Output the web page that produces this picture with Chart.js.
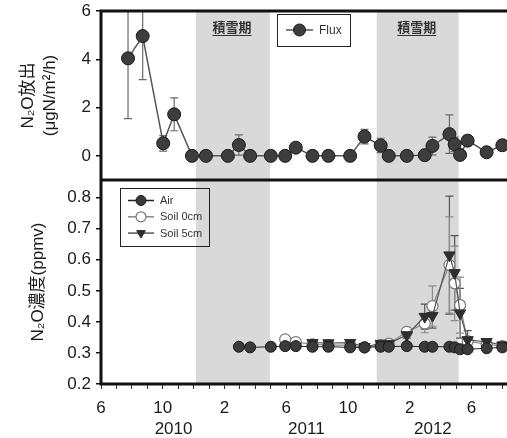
<!DOCTYPE html>
<html>
<head>
<meta charset="utf-8">
<script src="https://cdn.jsdelivr.net/npm/chart.js@4.4.0/dist/chart.umd.min.js"></script>
<style>
  body { margin: 0; background: #fff; }
  #wrap { position: relative; width: 507px; height: 438px; overflow: hidden; }
  #top { position: absolute; left: 0; top: 0; }
  #bottom { position: absolute; left: 0; top: 180px; }
</style>
</head>
<body>
<div id="wrap">
  <canvas id="top" width="507" height="180"></canvas>
  <canvas id="bottom" width="507" height="258"></canvas>
</div>
<script>
// x values are months counted from June 2010 (0 = Jun 2010)
const tickMonths = [0, 4, 8, 12, 16, 20, 24];
const tickLabels = ["6", "10", "2", "6", "10", "2", "6"];
const yearLabels = ["2010", "2011", "2012"];
const yearMonths = [4.7, 13.3, 21.5];

const snowStart = [6.15, 17.86];
const snowEnd = [10.94, 23.17];
const snowLabel = "積雪期";

const fluxMonths = [1.75, 2.7, 4.03, 4.74, 5.89, 6.8, 8.22, 8.93, 9.66, 11.0, 11.93, 12.62, 13.7, 14.73, 16.14, 17.07, 18.12, 18.64, 19.81, 20.97, 21.47, 22.57, 22.91, 23.26, 23.75, 24.98, 26.0];
const fluxValues = [4.04, 4.96, 0.52, 1.72, 0, 0, 0, 0.45, 0, 0, 0, 0.34, 0, 0, 0, 0.8, 0.43, 0, 0, 0.03, 0.41, 0.9, 0.48, 0.04, 0.63, 0.15, 0.44];
const fluxErrors = [2.5, 1.8, 0.32, 0.68, 0, 0, 0, 0.42, 0, 0, 0, 0.2, 0, 0, 0, 0.3, 0.3, 0, 0, 0, 0.37, 0.8, 0.3, 0, 0.2, 0, 0.2];

const airMonths = [8.93, 9.66, 11.0, 11.93, 12.62, 13.7, 14.73, 16.14, 17.07, 18.12, 18.64, 19.81, 20.97, 21.47, 22.57, 22.91, 23.26, 23.75, 24.98, 26.0];
const airValues = [0.32, 0.318, 0.32, 0.322, 0.322, 0.32, 0.32, 0.318, 0.318, 0.32, 0.32, 0.322, 0.32, 0.32, 0.32, 0.318, 0.312, 0.312, 0.315, 0.318];

const soil0Months = [11.93, 12.62, 13.7, 14.73, 16.14, 17.07, 18.12, 18.64, 19.81, 20.97, 21.47, 22.57, 22.91, 23.26, 23.75, 24.98, 26.0];
const soil0Values = [0.344, 0.335, 0.328, 0.325, 0.325, 0.318, 0.325, 0.33, 0.368, 0.395, 0.451, 0.583, 0.524, 0.454, 0.338, 0.328, 0.322];
const soil0Errors = [0.005, 0.005, 0.005, 0.005, 0.005, 0.005, 0.005, 0.005, 0.01, 0.03, 0.065, 0.155, 0.12, 0.09, 0.01, 0.005, 0.005];

const soil5Months = [13.7, 14.73, 16.14, 17.07, 18.12, 18.64, 19.81, 20.97, 21.47, 22.57, 22.91, 23.26, 23.75, 24.98, 26.0];
const soil5Values = [0.333, 0.332, 0.333, 0.32, 0.33, 0.33, 0.358, 0.417, 0.42, 0.615, 0.558, 0.428, 0.342, 0.336, 0.325];
const soil5Errors = [0, 0, 0, 0, 0, 0, 0.01, 0.04, 0.04, 0.19, 0.12, 0.08, 0.03, 0.005, 0];

const topTicks = [0, 2, 4, 6];
const bottomTicks = [0.2, 0.3, 0.4, 0.5, 0.6, 0.7, 0.8];

const FONT = "'Liberation Sans', Arial, 'Noto Sans CJK JP', sans-serif";
const CJK = "'Noto Sans CJK JP', 'Liberation Sans', sans-serif";

function pts(xs, ys) {
  return xs.map((m, i) => ({ x: m, y: ys[i] }));
}

// white background + snow-cover shading
const shadePlugin = {
  id: "shade",
  beforeDraw(chart, args, opts) {
    const { ctx, chartArea: a, scales } = chart;
    const x = scales.x;
    ctx.save();
    ctx.fillStyle = "#fff";
    ctx.fillRect(0, 0, chart.width, chart.height);
    ctx.fillStyle = "#d9d9d9";
    for (let i = 0; i < snowStart.length; i++) {
      const x0 = x.getPixelForValue(snowStart[i]);
      const x1 = x.getPixelForValue(snowEnd[i]);
      ctx.fillRect(x0, a.top, x1 - x0, a.bottom - a.top);
      if (opts.label) {
        const cx = (x0 + x1) / 2 - 1;
        ctx.font = "bold 13px " + CJK;
        ctx.fillStyle = "#333";
        ctx.textAlign = "center";
        ctx.textBaseline = "middle";
        ctx.fillText(snowLabel, cx, a.top + 16);
        const w = ctx.measureText(snowLabel).width;
        ctx.fillRect(cx - w / 2, a.top + 24, w, 1);
        ctx.fillStyle = "#d9d9d9";
      }
    }
    ctx.restore();
  },
};

const errorPlugin = {
  id: "errbars",
  beforeDatasetsDraw(chart) {
    const { ctx, chartArea: a, scales } = chart;
    const y = scales.y;
    ctx.save();
    ctx.beginPath();
    ctx.rect(a.left, a.top, a.right - a.left, a.bottom - a.top);
    ctx.clip();
    chart.data.datasets.forEach((ds, di) => {
      if (!ds.errors) return;
      const meta = chart.getDatasetMeta(di);
      ctx.strokeStyle = ds.errorColor || "#666";
      ctx.lineWidth = 1.2;
      meta.data.forEach((p, i) => {
        const e = ds.errors[i];
        if (!e) return;
        const v = ds.data[i].y;
        const yt = y.getPixelForValue(v + e);
        const yb = y.getPixelForValue(v - e);
        ctx.beginPath();
        ctx.moveTo(p.x, yt);
        ctx.lineTo(p.x, yb);
        ctx.moveTo(p.x - 4, yt);
        ctx.lineTo(p.x + 4, yt);
        ctx.moveTo(p.x - 4, yb);
        ctx.lineTo(p.x + 4, yb);
        ctx.stroke();
      });
    });
    ctx.restore();
  },
};

// panel frame (left, top, bottom) + boxed legend
const framePlugin = {
  id: "frame",
  afterDraw(chart, args, opts) {
    const { ctx, chartArea: a } = chart;
    ctx.save();
    ctx.strokeStyle = "#111";
    ctx.lineWidth = 3;
    ctx.beginPath();
    ctx.moveTo(chart.width + 5, a.top);
    ctx.lineTo(a.left, a.top);
    ctx.lineTo(a.left, a.bottom);
    ctx.lineTo(chart.width + 5, a.bottom);
    ctx.stroke();

    const lg = opts.legend;
    if (lg) {
      ctx.lineWidth = 1;
      ctx.strokeStyle = "#222";
      ctx.strokeRect(lg.x + 0.5, lg.y + 0.5, lg.w, lg.h);
      ctx.font = lg.size + "px " + FONT;
      ctx.textBaseline = "middle";
      ctx.textAlign = "left";
      lg.order.forEach((di, k) => {
        const ds = chart.data.datasets[di];
        const yy = lg.y + lg.first + k * lg.gap;
        const x0 = lg.x + lg.pad;
        ctx.strokeStyle = ds.borderColor;
        ctx.lineWidth = 1.5;
        ctx.beginPath();
        ctx.moveTo(x0, yy);
        ctx.lineTo(x0 + lg.line, yy);
        ctx.stroke();
        ctx.fillStyle = ds.pointBackgroundColor;
        ctx.strokeStyle = ds.pointBorderColor;
        ctx.lineWidth = ds.pointBorderWidth;
        Chart.helpers.drawPoint(ctx, {
          pointStyle: ds.pointStyle || "circle",
          radius: lg.radius,
          rotation: ds.pointRotation || 0,
          borderWidth: ds.pointBorderWidth,
        }, x0 + lg.line / 2, yy);
        ctx.fillStyle = "#333";
        ctx.fillText(ds.label, x0 + lg.line + 6, yy + 0.5);
      });
    }

    const yr = opts.years;
    if (yr) {
      const x = chart.scales.x;
      ctx.fillStyle = "#1a1a1a";
      ctx.font = "17px " + FONT;
      ctx.textAlign = "center";
      ctx.textBaseline = "middle";
      yearLabels.forEach((t, i) => ctx.fillText(t, x.getPixelForValue(yearMonths[i]), a.bottom + 45));
    }
    ctx.restore();
  },
};

// fixed axis sizes so both panels line up; no extra label overflow padding
const fixY = (s) => { s.width = 101; s.paddingTop = 0; s.paddingBottom = 0; };
const fixX = (s) => { s.height = 54; s.paddingLeft = 0; s.paddingRight = 0; };

new Chart(document.getElementById("top"), {
  type: "line",
  data: {
    datasets: [
      {
        label: "Flux",
        data: pts(fluxMonths, fluxValues),
        errors: fluxErrors,
        errorColor: "#6a6a6a",
        borderColor: "#555",
        borderWidth: 1.5,
        pointRadius: 6.5,
        pointBackgroundColor: "#3d3d3d",
        pointBorderColor: "#1a1a1a",
        pointBorderWidth: 1,
        tension: 0,
      },
    ],
  },
  options: {
    responsive: false,
    animation: false,
    events: [],
    layout: { autoPadding: false, padding: { top: 11, left: 0, right: 0, bottom: 0 } },
    plugins: {
      legend: { display: false },
      tooltip: { enabled: false },
      shade: { label: true },
      frame: {
        legend: { x: 277, y: 14, w: 73, h: 32, pad: 9, line: 27, first: 16, gap: 0, size: 12, radius: 6, order: [0] },
      },
    },
    scales: {
      x: { type: "linear", min: 0, max: 26.3, display: false },
      y: {
        min: -1,
        max: 6,
        afterFit: fixY,
        afterBuildTicks: (s) => { s.ticks = topTicks.map((v) => ({ value: v })); },
        border: { display: false },
        grid: { drawOnChartArea: false, tickLength: 5, color: "#111", lineWidth: 1.5 },
        ticks: { padding: 5, color: "#1a1a1a", font: { family: FONT, size: 17 } },
        title: {
          display: true,
          text: ["N₂O放出", "(μgN/m²/h)"],
          color: "#1a1a1a",
          font: { family: FONT, size: 17, lineHeight: 1.3 },
          padding: { top: 17, bottom: 0 },
        },
      },
    },
  },
  plugins: [shadePlugin, errorPlugin, framePlugin],
});

new Chart(document.getElementById("bottom"), {
  type: "line",
  data: {
    datasets: [
      {
        label: "Air",
        data: pts(airMonths, airValues),
        borderColor: "#222",
        borderWidth: 1,
        pointRadius: 5.5,
        pointBackgroundColor: "#3a3a3a",
        pointBorderColor: "#1a1a1a",
        pointBorderWidth: 1,
        tension: 0,
      },
      {
        label: "Soil 5cm",
        data: pts(soil5Months, soil5Values),
        errors: soil5Errors,
        errorColor: "#555",
        borderColor: "#555",
        borderWidth: 1.2,
        pointStyle: "triangle",
        pointRotation: 180,
        pointRadius: 6.5,
        pointBackgroundColor: "#2e2e2e",
        pointBorderColor: "#2e2e2e",
        pointBorderWidth: 1,
        tension: 0,
      },
      {
        label: "Soil 0cm",
        data: pts(soil0Months, soil0Values),
        errors: soil0Errors,
        errorColor: "#8a8a8a",
        borderColor: "#888",
        borderWidth: 1.2,
        pointRadius: 5.5,
        pointBackgroundColor: "#fff",
        pointBorderColor: "#777",
        pointBorderWidth: 1.2,
        tension: 0,
      },
    ],
  },
  options: {
    responsive: false,
    animation: false,
    events: [],
    layout: { autoPadding: false, padding: 0 },
    plugins: {
      legend: { display: false },
      tooltip: { enabled: false },
      shade: { label: false },
      frame: {
        legend: { x: 120, y: 8, w: 89, h: 58, pad: 8, line: 26, first: 12.5, gap: 16.3, size: 11, radius: 5, order: [0, 2, 1] },
        years: true,
      },
    },
    scales: {
      x: {
        type: "linear",
        min: 0,
        max: 26.3,
        afterFit: fixX,
        afterBuildTicks: (s) => {
          const t = [];
          for (let m = 0; m <= 26; m++) t.push({ value: m });
          s.ticks = t;
        },
        border: { display: false },
        grid: { drawOnChartArea: false, tickLength: 5, color: "#333", lineWidth: 1 },
        ticks: {
          autoSkip: false,
          maxRotation: 0,
          padding: 9,
          color: "#1a1a1a",
          font: { family: FONT, size: 17 },
          callback: (v) => {
            const i = tickMonths.indexOf(v);
            return i >= 0 ? tickLabels[i] : "";
          },
        },
      },
      y: {
        min: 0.2,
        max: 0.857,
        afterFit: fixY,
        afterBuildTicks: (s) => { s.ticks = bottomTicks.map((v) => ({ value: v })); },
        border: { display: false },
        grid: { drawOnChartArea: false, tickLength: 5, color: "#111", lineWidth: 1.5 },
        ticks: {
          padding: 5,
          color: "#1a1a1a",
          font: { family: FONT, size: 17 },
          callback: (v) => v.toFixed(1),
        },
        title: {
          display: true,
          text: "N₂O濃度(ppmv)",
          color: "#1a1a1a",
          font: { family: FONT, size: 17, lineHeight: 1.3 },
          padding: { top: 27, bottom: 0 },
        },
      },
    },
  },
  plugins: [shadePlugin, errorPlugin, framePlugin],
});
</script>
</body>
</html>
